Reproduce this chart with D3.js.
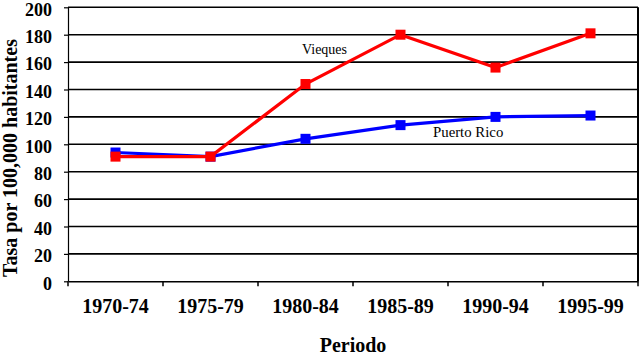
<!DOCTYPE html>
<html><head><meta charset="utf-8">
<script src="https://cdn.jsdelivr.net/npm/d3@7"></script>
<style>body{margin:0;background:#fff}svg{display:block}</style>
</head><body>
<svg id="c" width="640" height="356"></svg>
<script>
const categories = ["1970-74","1975-79","1980-84","1985-89","1990-94","1995-99"];
const puertoRico = [94, 91, 104, 114, 120, 121];
const vieques = [91, 91, 144, 180, 156, 181];
const yTicks = [0,20,40,60,80,100,120,140,160,180,200];
const seriesNames = ["Puerto Rico","Vieques"];

const svg = d3.select("#c");
const L = 68, R = 638, T = 7.3, B = 281.3;
const x = d3.scaleBand().domain(categories).range([L, R]);
const y = d3.scaleLinear().domain([0, 200]).range([B, T]);
const serif = "'Liberation Serif','Times New Roman',serif";

// gridlines
svg.append("g").selectAll("line").data(yTicks.filter(d => d > 0)).join("line")
  .attr("x1", L).attr("x2", R).attr("y1", d => y(d)).attr("y2", d => y(d))
  .attr("stroke", "#000").attr("stroke-width", 1.6);
// right border
svg.append("line").attr("x1", R).attr("x2", R).attr("y1", T).attr("y2", B)
  .attr("stroke", "#000").attr("stroke-width", 2);

// y axis
const ya = svg.append("g").attr("transform", `translate(${L},0)`)
  .call(d3.axisLeft(y).tickValues(yTicks).tickSize(4).tickSizeOuter(0));
ya.select(".domain").attr("stroke-width", 1.2);
ya.selectAll(".tick line").attr("stroke-width", 1.2);
ya.selectAll("text").attr("font-family", serif).attr("font-weight", "bold")
  .attr("font-size", 18).attr("x", -16).attr("dy", "0.43em").attr("fill", "#000");

// x axis
const xa = svg.append("g").attr("transform", `translate(0,${B})`)
  .call(d3.axisBottom(x).tickSize(0).tickSizeOuter(0));
xa.select(".domain").attr("stroke-width", 1.6);
xa.selectAll("text").attr("font-family", serif).attr("font-weight", "bold")
  .attr("font-size", 20).attr("y", 32).attr("dy", 0).attr("fill", "#000");
// boundary ticks
svg.append("g").selectAll("line").data(categories.concat(["end"])).join("line")
  .attr("x1", (d, i) => L + i * x.step()).attr("x2", (d, i) => L + i * x.step())
  .attr("y1", B).attr("y2", B + 5).attr("stroke", "#000").attr("stroke-width", 1.5);

// axis titles
svg.append("text").attr("transform", `translate(17,158) rotate(-90)`)
  .attr("text-anchor", "middle").attr("font-family", serif).attr("font-weight", "bold")
  .attr("font-size", 20).text("Tasa por 100,000 habitantes");
svg.append("text").attr("x", (L + R) / 2).attr("y", 352).attr("text-anchor", "middle")
  .attr("font-family", serif).attr("font-weight", "bold").attr("font-size", 20).text("Periodo");

const cx = d => x(d) + x.bandwidth() / 2;
const line = d3.line().x(d => cx(d[0])).y(d => y(d[1]));
const series = [
  {name: seriesNames[0], vals: puertoRico, color: "#0000ff"},
  {name: seriesNames[1], vals: vieques, color: "#ff0000"}
];
series.forEach(s => {
  const pts = categories.map((c, i) => [c, s.vals[i]]);
  svg.append("path").attr("d", line(pts)).attr("fill", "none")
    .attr("stroke", s.color).attr("stroke-width", 3.2);
  svg.append("g").selectAll("rect").data(pts).join("rect")
    .attr("x", d => cx(d[0]) - 5).attr("y", d => y(d[1]) - 5)
    .attr("width", 10).attr("height", 10).attr("fill", s.color);
});

// inline labels
svg.append("text").attr("x", 302).attr("y", 54).attr("font-family", serif)
  .attr("font-size", 14).text(seriesNames[1]);
svg.append("text").attr("x", 433).attr("y", 137).attr("font-family", serif)
  .attr("font-size", 14.8).text(seriesNames[0]);
</script>
</body></html>
